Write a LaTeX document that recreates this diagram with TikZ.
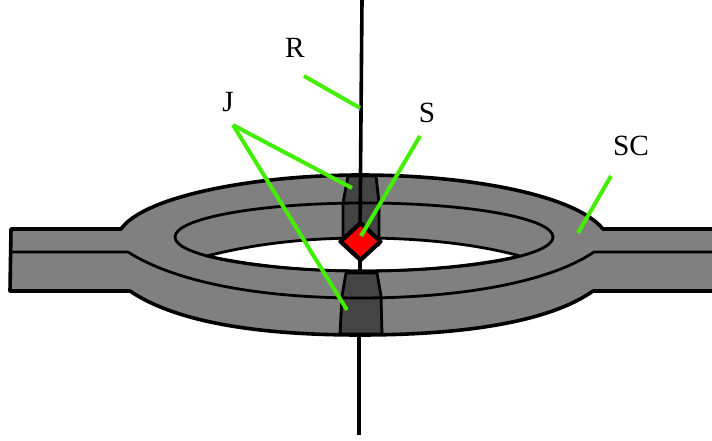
\documentclass[tikz,border=0pt]{standalone}
\usepackage{fontspec}
\setmainfont{Liberation Serif}
\definecolor{ringgray}{HTML}{808080}
\definecolor{jdark}{HTML}{444444}
\definecolor{lead}{HTML}{44EE00}
\begin{document}
\begin{tikzpicture}[x=0.75pt,y=-0.75pt,
  ink/.style={draw=black,line width=2.7pt,line join=round},
  thin ink/.style={draw=black,line width=2.1pt,line join=round},
  gem/.style={draw=black,fill=red,line width=3.2pt,line join=round},
  leadline/.style={draw=lead,line width=3pt},
  lab/.style={font=\fontsize{22}{24}\selectfont,inner sep=0pt,text=black}]
\useasboundingbox (0,0) rectangle (712,441);
% ring body
\path[fill=ringgray,ink] (714,229) -- (603,229)
  .. controls (575,195) and (470,175) .. (360,175)
  .. controls (260,175) and (145,195) .. (121,229)
  -- (11,229) -- (10,291) -- (130,291)
  .. controls (180,325) and (270,335) .. (360,335)
  .. controls (450,335) and (545,325) .. (593,291)
  -- (714,291);
% hole
\path[fill=white,thin ink] (207,256)
  .. controls (250,245) and (300,238) .. (362,238)
  .. controls (425,238) and (480,245) .. (520,256)
  .. controls (480,265) and (425,271) .. (362,271)
  .. controls (300,271) and (250,265) .. (207,256) -- cycle;
% junctions
\path[fill=jdark,thin ink] (348,176) -- (376,176) -- (379,203) -- (379,245) -- (343,245) -- (343,203) -- cycle;
\path[fill=jdark,thin ink] (346,273) -- (377,273) -- (381,296) -- (382,334) -- (340,334) -- (342,296) -- cycle;
% inner ellipse and mid line
\draw[thin ink] (364,237) ellipse [x radius=189,y radius=34];
\draw[thin ink] (10,252) -- (128,252)
  .. controls (180,285) and (270,298) .. (360,298)
  .. controls (450,298) and (545,285) .. (594,252) -- (714,252);
% axis
\coordinate (axT) at (362,0);
\coordinate (axD) at (360,232);
\coordinate (axH1) at (360,258);
\coordinate (axH2) at (360,272);
\coordinate (axB1) at (359,335);
\coordinate (axB2) at (359,435);
\draw[ink] (axT) -- (axD);
\draw[ink] (axH1) -- (axH2);
\draw[ink] (axB1) -- (axB2);
% S element
\path[gem] (360.5,223) -- (380.5,241.5) -- (360.5,260) -- (340.5,241.5) -- cycle;
% labels
\node[lab] (R) at (295,48) {R};
\node[lab] (J) at (228,102) {J};
\node[lab] (S) at (427,113) {S};
\node[lab] (SC) at (631,146) {SC};
% leaders
\coordinate (r1) at (304,76);
\coordinate (r2) at (360,108);
\coordinate (jA) at (233,125);
\coordinate (j1) at (352,188);
\coordinate (j2) at (347,310);
\coordinate (s1) at (420,136);
\coordinate (s2) at (361,236);
\coordinate (c1) at (611,176);
\coordinate (c2) at (578,233);
\draw[leadline] (r1) -- (r2);
\draw[leadline] (jA) -- (j1);
\draw[leadline] (jA) -- (j2);
\draw[leadline] (s1) -- (s2);
\draw[leadline] (c1) -- (c2);
\end{tikzpicture}
\end{document}
